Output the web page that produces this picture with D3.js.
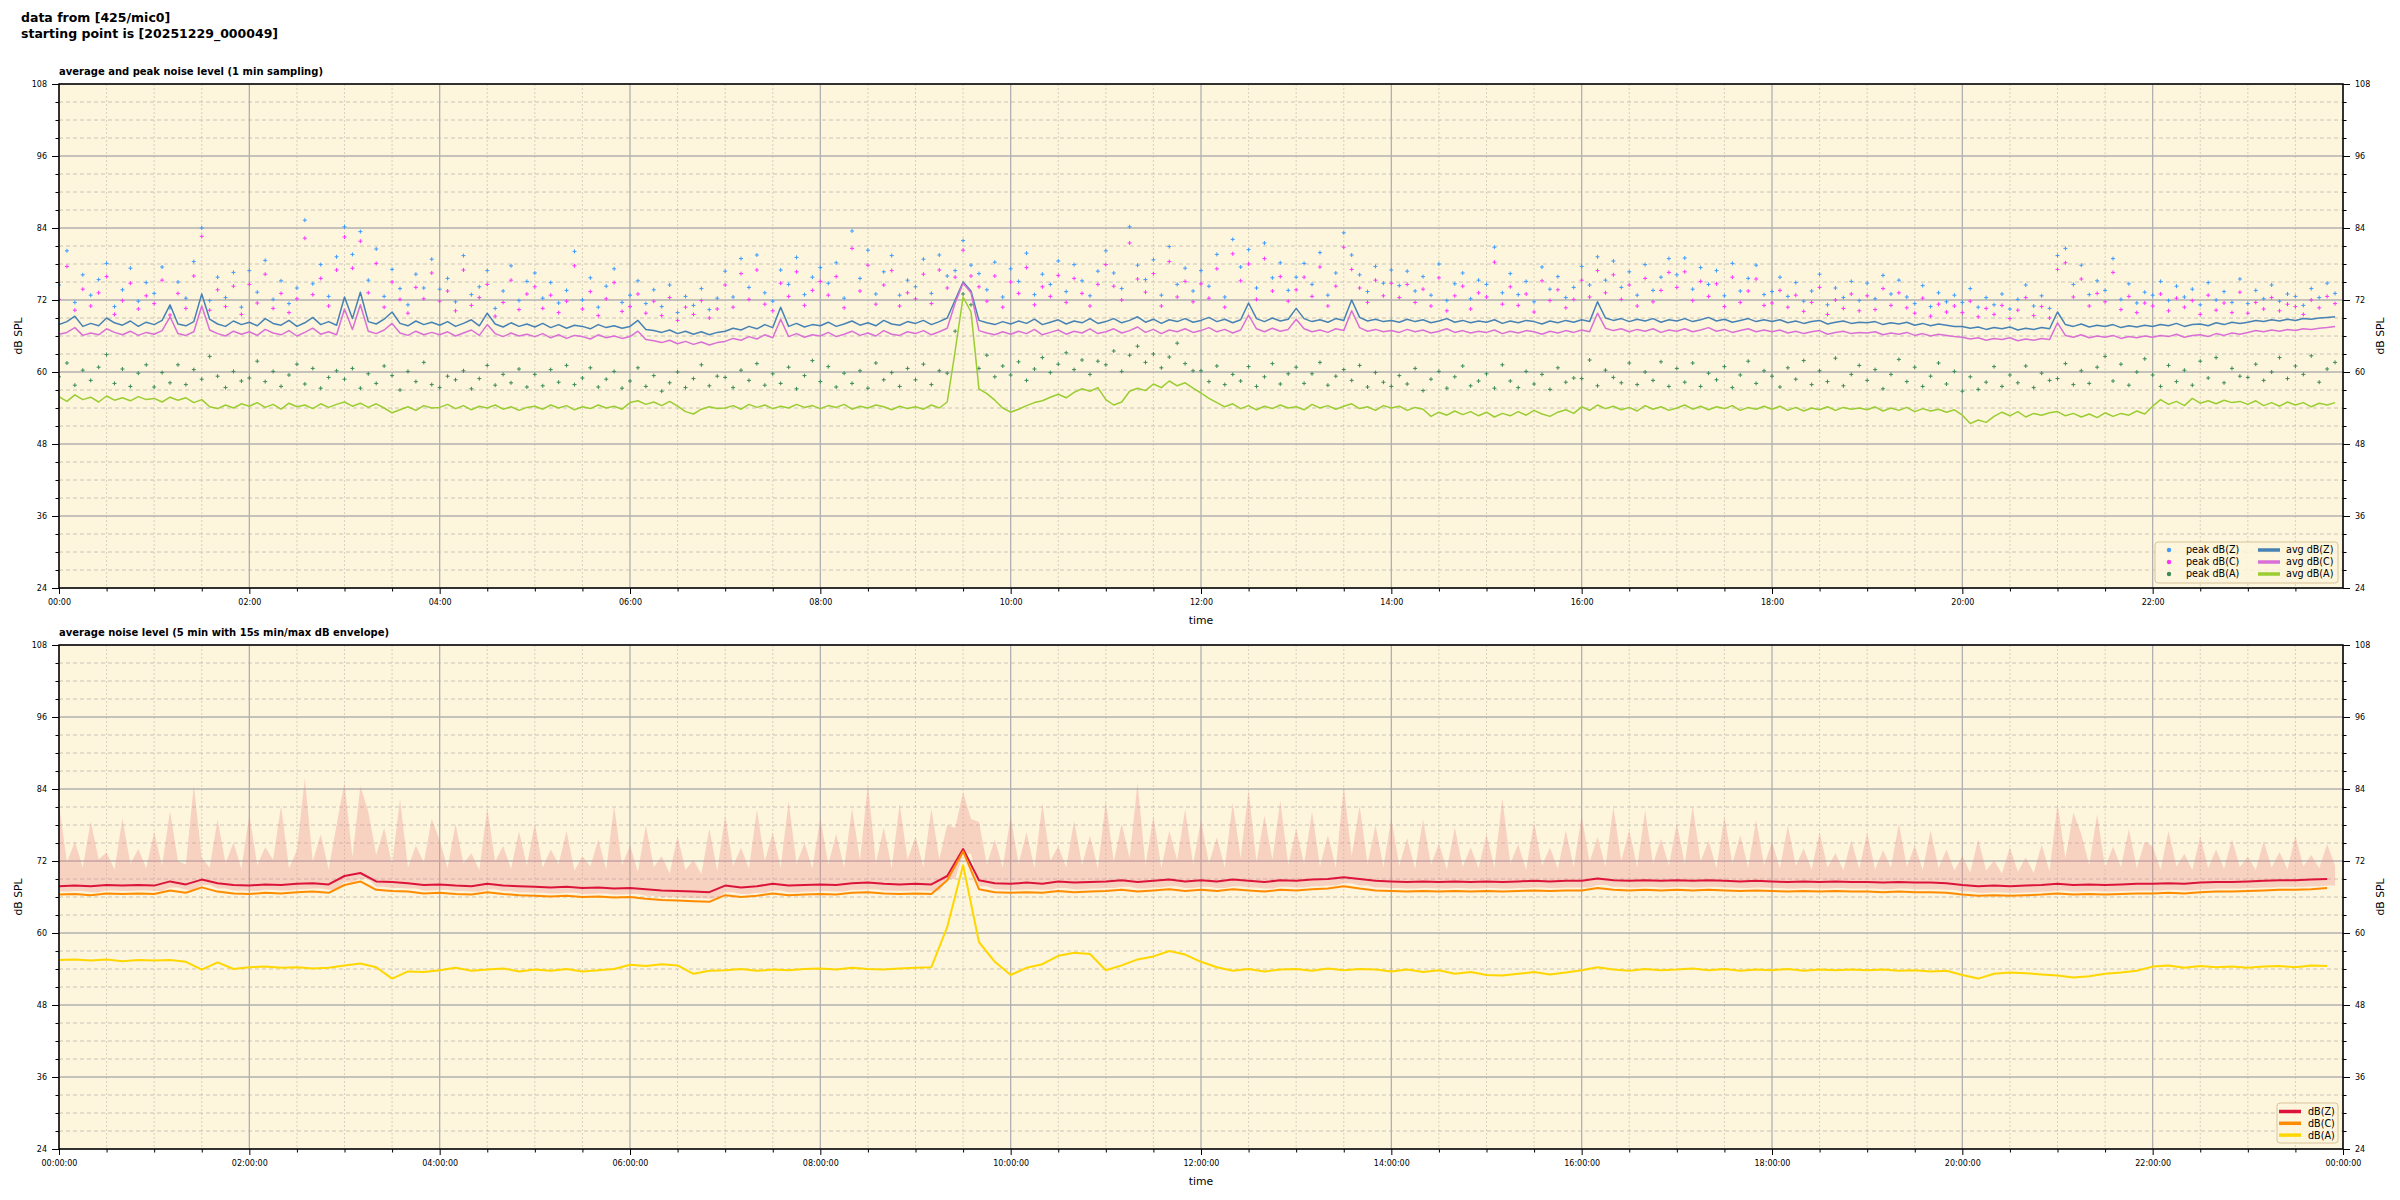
<!DOCTYPE html>
<html lang="en">
<head>
<meta charset="UTF-8">
<title>noise level - 425/mic0</title>
<script src="https://cdn.jsdelivr.net/npm/d3@7"></script>
<style>
  body { margin: 0; background: #ffffff; }
  svg text { font-family: "DejaVu Sans", sans-serif; fill: #000; }
</style>
</head>
<body>
<svg id="chart" width="2400" height="1200"></svg>
<script>
// sampling steps (minutes); every row of an array below is one hour
var topStep = 5;     // avg / peak series of the top panel, envMax
var botStep = 10;    // level lines of the bottom panel, envMin

// top panel: 1 min averages (dB SPL)
var avgZ = [
  67.9, 68.4, 69.3, 67.6, 68.1, 67.7, 69.0, 68.2, 67.8, 68.5, 67.6, 68.3,
  67.9, 68.6, 71.2, 68.0, 67.7, 68.4, 73.0, 68.8, 68.0, 67.6, 68.5, 67.9,
  68.3, 67.7, 68.9, 68.1, 67.8, 68.6, 67.6, 68.2, 69.1, 67.9, 68.4, 67.8,
  72.5, 68.9, 73.3, 68.4, 68.0, 68.8, 70.0, 68.1, 67.7, 68.5, 67.9, 68.3,
  67.8, 68.4, 67.6, 68.1, 68.7, 67.7, 69.8, 68.0, 67.5, 68.2, 67.6, 68.0,
  67.5, 68.1, 67.4, 67.9, 67.3, 67.8, 67.6, 67.2, 67.9, 67.4, 67.7, 67.3,
  67.6, 68.6, 67.1, 66.9, 66.6, 67.0, 66.4, 66.8, 66.3, 66.7, 66.2, 66.6,
  66.8, 67.3, 67.0, 67.6, 67.2, 67.9, 67.4, 70.8, 67.6, 68.1, 67.5, 67.9,
  67.7, 68.3, 67.6, 68.0, 68.5, 67.8, 68.2, 67.7, 68.6, 68.0, 67.8, 68.4,
  68.1, 68.6, 67.9, 68.4, 69.0, 72.0, 75.0, 73.5, 68.6, 68.2, 67.9, 68.4,
  68.0, 68.5, 68.1, 68.8, 67.9, 68.3, 68.7, 68.0, 68.5, 68.2, 68.9, 68.1,
  68.4, 68.9, 68.2, 68.6, 69.2, 68.3, 68.8, 68.1, 68.7, 68.4, 68.9, 68.3,
  68.6, 69.1, 68.4, 68.8, 68.2, 68.7, 71.5, 68.9, 68.4, 69.0, 68.5, 68.8,
  70.6, 68.9, 68.4, 68.7, 68.3, 68.9, 68.6, 72.0, 69.1, 68.5, 68.8, 68.4,
  68.6, 68.3, 68.8, 68.4, 68.7, 68.2, 68.5, 68.9, 68.3, 68.6, 68.2, 68.5,
  68.3, 68.7, 68.1, 68.5, 68.2, 68.6, 68.4, 68.0, 68.5, 68.2, 68.6, 68.3,
  68.7, 68.4, 71.7, 69.0, 68.6, 68.9, 68.4, 68.8, 68.5, 68.9, 68.3, 68.7,
  68.5, 68.9, 68.4, 68.7, 69.1, 68.5, 68.8, 68.3, 68.6, 68.9, 68.4, 68.7,
  68.4, 68.7, 68.2, 68.5, 68.1, 68.4, 68.6, 68.0, 68.3, 68.5, 68.1, 68.3,
  68.2, 68.4, 67.9, 68.2, 68.0, 68.3, 67.8, 68.1, 67.7, 68.0, 67.8, 67.6,
  67.6, 67.3, 67.5, 67.1, 67.4, 67.2, 67.5, 67.0, 67.3, 67.1, 67.4, 67.2,
  70.0, 67.9, 67.6, 68.0, 67.5, 67.8, 67.6, 67.9, 67.4, 67.7, 67.5, 67.8,
  67.6, 67.9, 67.7, 68.1, 67.6, 67.9, 68.0, 67.7, 68.2, 67.9, 68.3, 68.1,
  68.3, 68.6, 68.4, 68.7, 68.5, 68.8, 68.6, 68.9, 68.8, 69.0, 69.1, 69.2
];
var avgC = [
  66.3, 66.6, 67.4, 66.1, 66.5, 66.2, 67.2, 66.6, 66.2, 66.8, 66.1, 66.6,
  66.3, 66.9, 69.2, 66.4, 66.1, 66.7, 71.0, 67.0, 66.4, 66.0, 66.8, 66.3,
  66.7, 66.1, 67.1, 66.5, 66.2, 66.9, 66.0, 66.6, 67.3, 66.3, 66.7, 66.2,
  70.5, 67.1, 71.2, 66.8, 66.4, 67.0, 68.1, 66.5, 66.1, 66.8, 66.2, 66.6,
  66.2, 66.7, 66.0, 66.5, 67.0, 66.1, 67.9, 66.4, 65.9, 66.5, 66.0, 66.3,
  65.9, 66.4, 65.7, 66.2, 65.6, 66.1, 65.9, 65.5, 66.2, 65.7, 66.0, 65.6,
  65.9, 66.8, 65.4, 65.2, 64.9, 65.3, 64.7, 65.1, 64.6, 65.0, 64.5, 64.9,
  65.1, 65.6, 65.3, 65.9, 65.5, 66.2, 65.7, 68.8, 65.9, 66.4, 65.8, 66.2,
  66.0, 66.6, 65.9, 66.3, 66.8, 66.1, 66.5, 66.0, 66.9, 66.3, 66.1, 66.7,
  66.4, 66.9, 66.2, 66.7, 67.3, 71.5, 74.8, 73.2, 66.9, 66.5, 66.2, 66.7,
  66.3, 66.8, 66.4, 67.1, 66.2, 66.6, 67.0, 66.3, 66.8, 66.5, 67.2, 66.4,
  66.7, 67.2, 66.5, 66.9, 67.5, 66.6, 67.1, 66.4, 67.0, 66.7, 67.2, 66.6,
  66.9, 67.4, 66.7, 67.1, 66.5, 67.0, 69.5, 67.2, 66.7, 67.3, 66.8, 67.1,
  68.8, 67.2, 66.7, 67.0, 66.6, 67.2, 66.9, 70.2, 67.4, 66.8, 67.1, 66.7,
  66.9, 66.6, 67.1, 66.7, 67.0, 66.5, 66.8, 67.2, 66.6, 66.9, 66.5, 66.8,
  66.6, 67.0, 66.4, 66.8, 66.5, 66.9, 66.7, 66.3, 66.8, 66.5, 66.9, 66.6,
  67.0, 66.7, 69.8, 67.3, 66.9, 67.2, 66.7, 67.1, 66.8, 67.2, 66.6, 67.0,
  66.8, 67.2, 66.7, 67.0, 67.4, 66.8, 67.1, 66.6, 66.9, 67.2, 66.7, 67.0,
  66.7, 67.0, 66.5, 66.8, 66.4, 66.7, 66.9, 66.3, 66.6, 66.8, 66.4, 66.6,
  66.5, 66.7, 66.2, 66.5, 66.3, 66.6, 66.1, 66.4, 66.0, 66.3, 66.1, 65.9,
  65.8, 65.5, 65.7, 65.3, 65.6, 65.4, 65.7, 65.2, 65.5, 65.3, 65.6, 65.4,
  68.2, 66.1, 65.8, 66.2, 65.7, 66.0, 65.8, 66.1, 65.6, 65.9, 65.7, 66.0,
  65.8, 66.1, 65.9, 66.3, 65.8, 66.1, 66.2, 65.9, 66.4, 66.1, 66.5, 66.3,
  66.6, 66.9, 66.7, 67.0, 66.8, 67.1, 66.9, 67.2, 67.1, 67.3, 67.4, 67.6
];
var avgA = [
  55.9, 55.1, 56.2, 55.4, 55.8, 55.0, 56.0, 55.3, 55.7, 55.2, 55.9, 55.4,
  55.6, 55.0, 55.8, 55.3, 55.7, 54.9, 55.4, 54.2, 53.9, 54.5, 54.0, 54.7,
  54.3, 54.9, 54.1, 54.6, 53.8, 54.8, 54.2, 54.5, 53.9, 54.7, 54.1, 54.6,
  55.0, 54.3, 54.8, 54.1, 54.7, 54.0, 53.2, 53.7, 54.2, 53.6, 54.4, 54.0,
  54.1, 54.6, 53.9, 54.4, 53.7, 54.3, 54.0, 54.5, 53.8, 54.2, 53.6, 54.1,
  54.3, 53.8, 54.5, 54.0, 54.4, 53.7, 54.2, 53.9, 54.5, 54.0, 54.3, 53.8,
  54.9, 55.2, 54.6, 55.0, 54.4, 55.1, 54.3, 53.4, 53.0, 53.8, 54.2, 53.9,
  54.0, 54.4, 53.8, 54.6, 54.1, 54.5, 53.9, 54.3, 54.0, 54.6, 54.1, 54.4,
  53.9, 54.4, 54.1, 54.6, 53.8, 54.3, 54.0, 54.5, 54.2, 53.7, 54.3, 53.9,
  54.2, 53.8, 54.5, 54.0, 55.0, 63.5, 72.5, 70.0, 57.2, 56.4, 55.3, 54.0,
  53.3, 53.8, 54.4, 54.9, 55.2, 55.8, 56.3, 55.7, 56.6, 57.2, 56.8, 57.4,
  55.4, 54.5, 55.0, 56.8, 57.3, 56.9, 58.0, 57.4, 58.5, 57.7, 58.2, 57.3,
  56.5, 55.6, 54.9, 54.2, 54.7, 53.9, 54.4, 53.7, 54.3, 53.9, 54.5, 54.0,
  54.2, 53.7, 54.6, 54.0, 54.4, 53.8, 54.3, 54.7, 53.9, 54.2, 53.6, 54.4,
  54.0, 54.3, 53.6, 54.1, 53.8, 52.6, 53.3, 52.8, 53.5, 52.9, 53.4, 52.7,
  53.3, 52.5, 53.1, 52.7, 53.4, 52.8, 53.6, 53.0, 52.6, 53.3, 53.7, 53.1,
  54.2, 53.6, 54.5, 53.9, 54.3, 53.7, 54.1, 53.5, 54.4, 53.8, 54.2, 53.6,
  54.0, 54.5, 53.8, 54.3, 53.7, 54.2, 53.9, 54.4, 53.6, 54.1, 53.8, 54.3,
  53.8, 54.3, 53.6, 54.1, 53.5, 54.0, 53.7, 54.2, 53.6, 54.1, 53.8, 54.0,
  53.7, 54.2, 53.5, 54.0, 53.6, 54.1, 53.4, 53.9, 53.5, 53.8, 53.3, 53.7,
  52.8, 51.4, 52.0, 51.6, 52.6, 53.3, 52.7, 53.4, 52.5, 53.1, 52.8, 53.2,
  53.4, 52.7, 53.1, 52.5, 53.0, 52.4, 53.2, 52.6, 53.1, 52.8, 53.5, 53.0,
  54.3, 55.4, 54.6, 55.1, 54.4, 55.6, 54.8, 55.2, 54.7, 55.3, 54.9, 55.1,
  54.6, 55.2, 54.4, 54.9, 54.3, 55.0, 54.5, 54.9, 54.2, 54.8, 54.5, 54.9
];

// top panel: peak values
var peakZ = [
  74.5, 80.2, 71.6, 76.2, 72.8, 75.4, 78.1, 70.9, 73.7, 77.3, 71.8, 74.9,
  73.1, 77.5, 70.7, 75.0, 72.3, 78.4, 84.0, 71.9, 75.8, 72.4, 76.6, 70.8,
  76.9, 73.3, 78.6, 72.1, 75.2, 71.4, 74.0, 85.3, 74.7, 77.9, 72.6, 79.2,
  84.2, 79.6, 83.4, 75.3, 80.5, 72.6, 77.1, 73.9, 71.2, 76.3, 74.0, 78.8,
  73.8, 75.6, 71.7, 79.4, 72.9, 74.2, 76.9, 70.6, 73.5, 77.7, 71.9, 75.1,
  76.5, 72.3, 74.9, 71.5, 73.6, 80.1, 72.0, 75.7, 70.8, 74.3, 77.2, 71.6,
  72.8, 75.2, 71.4, 73.7, 70.9, 74.5, 69.9, 72.6, 71.1, 73.9, 70.4, 72.3,
  76.8, 72.5, 78.9, 74.1, 79.5, 73.2, 71.8, 77.0, 74.6, 79.1, 72.9, 75.8,
  77.4, 74.8, 78.2, 72.3, 83.5, 75.6, 80.3, 73.0, 76.7, 79.4, 72.8, 75.3,
  74.2, 78.8, 73.1, 79.5, 76.0, 76.9, 81.9, 77.8, 76.4, 73.7, 78.3, 72.5,
  77.2, 75.1, 79.8, 72.9, 76.3, 74.6, 78.5, 73.4, 77.9, 75.2, 72.7, 76.8,
  80.2, 76.5, 73.9, 84.2, 77.8, 75.4, 78.7, 72.8, 80.9, 74.6, 77.3, 73.5,
  76.9, 74.3, 79.6, 72.5, 82.1, 77.5, 80.4, 74.0, 81.5, 75.7, 78.2, 73.6,
  75.8, 78.1, 74.6, 79.9, 72.8, 76.5, 83.2, 79.5, 76.2, 73.4, 77.6, 74.8,
  77.0, 74.4, 76.8, 73.5, 75.9, 72.8, 78.0, 71.9, 74.7, 76.5, 72.2, 75.3,
  74.6, 80.8, 73.2, 76.4, 72.9, 75.1, 71.7, 77.5, 73.8, 75.9, 72.4, 74.1,
  77.6, 74.5, 79.2, 75.3, 78.5, 74.1, 76.7, 72.8, 77.9, 73.6, 75.8, 78.9,
  76.2, 79.0, 73.8, 77.4, 74.6, 76.9, 72.7, 78.1, 73.5, 75.6, 77.8, 72.9,
  73.4, 75.8, 72.6, 74.9, 71.8, 73.5, 76.3, 71.2, 74.0, 72.4, 75.1, 71.9,
  74.8, 72.2, 76.1, 73.0, 75.3, 72.5, 71.4, 74.4, 70.9, 73.2, 71.7, 72.8,
  71.6, 73.9, 70.8, 72.4, 71.2, 73.0, 70.5, 72.1, 74.5, 71.0, 72.7, 70.6,
  79.4, 80.6, 74.6, 77.8, 72.9, 75.2, 73.6, 78.9, 72.1, 74.7, 71.5, 73.3,
  72.8, 75.1, 71.9, 74.3, 72.5, 73.8, 71.2, 74.9, 72.0, 73.4, 71.6, 75.5,
  71.4, 73.6, 72.2, 74.5, 71.8, 73.0, 72.6, 71.1, 73.9, 72.4, 74.8, 73.1
];
var peakC = [
  72.1, 77.6, 70.3, 73.8, 71.0, 73.2, 75.9, 69.6, 71.9, 74.8, 70.5, 72.7,
  71.4, 75.3, 69.5, 73.1, 70.6, 76.0, 82.6, 70.3, 73.7, 70.9, 74.3, 69.6,
  74.6, 71.5, 76.3, 70.6, 73.1, 69.9, 72.2, 82.3, 72.9, 75.6, 71.0, 77.0,
  82.5, 77.3, 81.8, 73.2, 78.1, 70.8, 75.0, 72.1, 69.8, 74.1, 72.2, 76.5,
  71.8, 73.5, 70.2, 77.0, 71.1, 72.4, 74.6, 69.3, 71.6, 75.3, 70.4, 73.0,
  74.2, 70.6, 72.8, 69.9, 71.8, 77.7, 70.5, 73.4, 69.4, 72.2, 74.9, 70.1,
  70.9, 73.0, 69.8, 71.8, 69.4, 72.4, 68.6, 70.8, 69.6, 71.9, 69.0, 70.5,
  74.5, 70.8, 76.4, 72.1, 77.0, 71.3, 70.2, 74.8, 72.6, 76.7, 71.1, 73.6,
  75.1, 72.8, 75.9, 70.7, 80.6, 73.5, 77.8, 71.3, 74.5, 76.9, 71.0, 73.2,
  72.2, 76.3, 71.4, 77.0, 74.0, 75.8, 80.3, 76.0, 74.2, 71.8, 76.0, 70.8,
  75.0, 73.1, 77.4, 71.2, 74.2, 72.6, 76.1, 71.6, 75.6, 73.1, 71.0, 74.6,
  77.9, 74.3, 72.0, 81.5, 75.5, 73.3, 76.4, 71.0, 78.4, 72.5, 75.1, 71.7,
  74.7, 72.3, 77.2, 70.8, 79.7, 75.2, 78.0, 72.1, 78.9, 73.5, 75.9, 71.8,
  73.7, 75.8, 72.6, 77.5, 71.0, 74.3, 80.8, 77.1, 74.0, 71.6, 75.3, 72.7,
  74.8, 72.4, 74.6, 71.6, 73.8, 71.0, 75.7, 70.2, 72.7, 74.3, 70.5, 73.2,
  72.5, 78.3, 71.3, 74.2, 71.1, 73.0, 70.0, 75.2, 71.9, 73.7, 70.7, 72.1,
  75.3, 72.5, 76.9, 73.2, 76.2, 72.1, 74.5, 71.0, 75.6, 71.7, 73.6, 76.6,
  74.1, 76.7, 71.9, 75.1, 72.6, 74.7, 70.9, 75.8, 71.6, 73.5, 75.5, 71.1,
  71.5, 73.6, 70.8, 72.8, 70.1, 71.6, 74.1, 69.6, 72.0, 70.6, 73.0, 70.2,
  72.7, 70.4, 73.9, 71.1, 73.2, 70.7, 69.8, 72.3, 69.3, 71.3, 70.0, 71.0,
  69.9, 71.8, 69.2, 70.6, 69.6, 71.1, 68.9, 70.3, 72.4, 69.4, 70.9, 69.0,
  77.1, 78.2, 72.5, 75.5, 71.0, 73.1, 71.7, 76.6, 70.4, 72.6, 69.9, 71.5,
  71.0, 73.0, 70.2, 72.3, 70.8, 71.9, 69.6, 72.8, 70.3, 71.5, 69.9, 73.3,
  69.8, 71.6, 70.5, 72.4, 70.2, 71.3, 70.9, 69.6, 72.0, 70.7, 72.6, 71.4
];
var peakA = [
  59.2, 61.5, 57.8, 60.3, 58.6, 60.8, 62.9, 58.1, 60.5, 57.6, 59.8, 61.2,
  57.5, 59.9, 58.2, 61.2, 57.9, 60.4, 58.8, 62.6, 59.3, 57.4, 60.1, 58.5,
  59.0, 61.8, 58.4, 60.1, 57.6, 59.5, 61.3, 58.0, 60.6, 57.3, 59.1, 60.2,
  58.8, 60.6, 57.3, 59.7, 58.1, 61.0, 59.4, 57.0, 60.1, 58.4, 61.6, 57.9,
  57.4, 59.3, 58.7, 60.2, 57.2, 58.9, 61.1, 57.8, 59.6, 58.2, 60.5, 57.5,
  59.6, 57.7, 60.4, 58.3, 61.1, 57.9, 59.0, 60.7, 57.5, 58.8, 60.1, 57.3,
  58.5, 60.7, 57.6, 59.4, 56.8, 58.2, 60.0, 57.4, 58.9, 61.2, 57.7, 59.3,
  59.1, 57.4, 60.3, 58.6, 61.4, 57.8, 59.7, 58.1, 60.8, 57.2, 59.4, 61.9,
  58.4, 60.9, 57.5, 59.8, 58.1, 60.2, 57.3, 61.5, 58.7, 59.9, 57.6, 60.6,
  58.7, 61.3, 57.9, 60.2, 59.8, 66.8, 73.0, 71.2, 60.6, 62.8, 59.2, 61.0,
  59.5, 61.7, 58.6, 60.5, 62.4, 59.9, 61.3, 63.2, 60.4, 62.0, 59.6, 61.8,
  61.2, 63.5, 60.1, 62.8, 64.3, 61.6, 63.0, 60.7, 62.5, 64.8, 61.4, 60.2,
  60.2, 58.4, 61.0, 57.9, 59.6, 58.5, 60.9, 57.6, 59.2, 61.4, 58.0, 59.7,
  60.8, 58.1, 59.7, 61.6, 57.8, 59.3, 60.4, 58.6, 61.1, 57.5, 59.9, 58.3,
  57.6, 59.4, 58.0, 60.6, 56.9, 58.8, 60.1, 57.3, 59.2, 61.0, 57.7, 58.5,
  59.7, 57.3, 61.2, 58.5, 57.4, 60.1, 58.0, 59.6, 57.1, 60.7, 58.3, 59.0,
  58.9, 62.0, 57.7, 60.3, 59.1, 58.2, 61.5, 57.9, 60.0, 58.6, 61.7, 57.6,
  60.6, 58.3, 61.5, 57.6, 59.8, 58.7, 60.9, 57.4, 59.5, 61.8, 58.1, 60.2,
  59.3, 57.5, 60.7, 58.8, 61.9, 57.9, 60.2, 58.4, 62.3, 57.7, 59.6, 61.1,
  58.6, 60.4, 57.2, 59.6, 62.1, 58.4, 60.8, 57.6, 59.3, 61.5, 58.0, 60.1,
  56.8, 59.2, 57.1, 58.3, 60.9, 57.6, 59.5, 58.2, 61.0, 57.4, 59.8, 58.6,
  58.9, 61.4, 57.9, 60.2, 58.1, 60.8, 62.6, 58.5, 61.3, 57.8, 60.0, 62.2,
  59.5, 57.6, 61.1, 58.4, 60.3, 57.8, 61.8, 59.0, 62.4, 58.2, 60.6, 59.3,
  59.1, 61.3, 58.6, 60.0, 62.4, 58.9, 61.0, 59.6, 62.7, 58.3, 60.5, 61.6
];

// bottom panel: 5 min averages
var lvlZ = [
  67.8, 67.9, 67.8, 68.0, 67.9, 68.0,
  67.9, 68.6, 68.1, 68.9, 68.3, 68.0,
  67.9, 68.1, 68.0, 68.2, 68.3, 68.1,
  69.5, 70.0, 68.6, 68.5, 68.3, 68.0,
  68.1, 67.9, 67.8, 68.2, 67.9, 67.8,
  67.7, 67.6, 67.7, 67.5, 67.6, 67.4,
  67.5, 67.3, 67.1, 67.0, 66.9, 66.8,
  67.9, 67.6, 67.8, 68.2, 67.9, 68.0,
  68.1, 68.0, 68.3, 68.4, 68.2, 68.1,
  68.2, 68.1, 69.5, 74.0, 68.8, 68.3,
  68.2, 68.4, 68.2, 68.6, 68.4, 68.5,
  68.6, 68.8, 68.5, 68.7, 68.9, 68.6,
  68.8, 68.6, 68.9, 68.7, 68.5, 68.8,
  68.7, 68.9, 69.0, 69.3, 69.0, 68.7,
  68.6, 68.5, 68.6, 68.5, 68.6, 68.5,
  68.6, 68.5, 68.6, 68.7, 68.6, 68.7,
  68.7, 69.1, 68.8, 68.7, 68.8, 68.7,
  68.8, 68.7, 68.8, 68.7, 68.6, 68.7,
  68.6, 68.5, 68.6, 68.5, 68.6, 68.5,
  68.5, 68.4, 68.5, 68.4, 68.4, 68.3,
  68.0, 67.8, 67.9, 67.8, 67.9, 68.0,
  68.2, 68.0, 68.1, 68.0, 68.1, 68.2,
  68.2, 68.3, 68.2, 68.4, 68.5, 68.5,
  68.6, 68.7, 68.8, 68.8, 68.9, 69.0
];
var lvlC = [
  66.4, 66.5, 66.3, 66.6, 66.5, 66.6,
  66.5, 67.1, 66.7, 67.6, 66.9, 66.6,
  66.5, 66.7, 66.6, 66.8, 66.9, 66.7,
  68.0, 68.6, 67.2, 67.0, 66.9, 66.6,
  66.7, 66.5, 66.4, 66.8, 66.5, 66.3,
  66.2, 66.1, 66.2, 66.0, 66.1, 65.9,
  66.0, 65.7, 65.5, 65.4, 65.3, 65.2,
  66.3, 66.0, 66.2, 66.6, 66.3, 66.4,
  66.5, 66.4, 66.7, 66.8, 66.6, 66.5,
  66.6, 66.5, 68.8, 73.6, 67.3, 66.8,
  66.7, 66.8, 66.7, 67.0, 66.8, 66.9,
  67.0, 67.2, 66.9, 67.1, 67.3, 67.0,
  67.2, 67.0, 67.3, 67.1, 66.9, 67.2,
  67.1, 67.3, 67.4, 67.8, 67.4, 67.1,
  67.0, 66.9, 67.0, 66.9, 67.0, 66.9,
  67.0, 66.9, 67.0, 67.1, 67.0, 67.1,
  67.1, 67.5, 67.2, 67.1, 67.2, 67.1,
  67.2, 67.1, 67.2, 67.1, 67.0, 67.1,
  67.0, 66.9, 67.0, 66.9, 67.0, 66.9,
  66.9, 66.8, 66.9, 66.8, 66.8, 66.7,
  66.4, 66.2, 66.3, 66.2, 66.3, 66.4,
  66.6, 66.4, 66.5, 66.4, 66.5, 66.6,
  66.6, 66.7, 66.6, 66.8, 66.9, 66.9,
  67.0, 67.1, 67.2, 67.2, 67.3, 67.5
];
var lvlA = [
  55.5, 55.6, 55.4, 55.6, 55.3, 55.5,
  55.4, 55.5, 55.2, 53.9, 55.1, 54.0,
  54.3, 54.4, 54.2, 54.3, 54.1, 54.2,
  54.6, 54.9, 54.3, 52.4, 53.6, 53.5,
  53.8, 54.2, 53.7, 53.9, 54.1, 53.6,
  53.9, 53.7, 54.0, 53.6, 53.8, 54.0,
  54.7, 54.5, 54.8, 54.6, 53.2, 53.7,
  53.8, 54.0, 53.7, 53.9, 53.8, 54.0,
  54.1, 53.9, 54.2, 54.0, 53.9, 54.1,
  54.2, 54.3, 61.0, 71.3, 58.5, 55.2,
  53.0, 54.2, 54.8, 56.2, 56.7, 56.5,
  53.8, 54.6, 55.6, 56.1, 57.0, 56.4,
  55.2, 54.3, 53.7, 54.0, 53.6, 53.9,
  54.0, 53.7, 54.1, 53.8, 54.0, 53.9,
  53.6, 53.9, 53.5, 53.8, 53.2, 53.5,
  53.0, 52.9, 53.2, 53.5, 53.1, 53.4,
  53.8, 54.3, 53.9, 53.7, 54.0, 53.8,
  53.9, 54.1, 53.8, 54.0, 53.7, 53.9,
  53.8, 54.0, 53.7, 53.9, 53.8, 53.9,
  53.8, 53.9, 53.7, 53.8, 53.6, 53.7,
  53.0, 52.4, 53.2, 53.4, 53.3, 53.1,
  52.9, 52.6, 52.8, 53.2, 53.4, 53.7,
  54.4, 54.6, 54.2, 54.5, 54.3, 54.4,
  54.2, 54.4, 54.5, 54.3, 54.6, 54.5
];

// bottom panel: 15 s min / max envelope
var envMin = [
  66.9, 67.0, 66.8, 67.1, 67.0, 67.1,
  67.0, 67.6, 67.2, 68.0, 67.4, 67.1,
  67.0, 67.2, 67.1, 67.3, 67.4, 67.2,
  68.5, 69.0, 67.7, 67.5, 67.4, 67.1,
  67.2, 67.0, 66.9, 67.3, 67.0, 66.8,
  66.7, 66.6, 66.7, 66.5, 66.6, 66.4,
  66.5, 66.2, 66.0, 65.9, 65.8, 65.7,
  66.8, 66.5, 66.7, 67.1, 66.8, 66.9,
  67.0, 66.9, 67.2, 67.3, 67.1, 67.0,
  67.1, 67.0, 69.0, 73.2, 67.8, 67.3,
  67.2, 67.3, 67.2, 67.5, 67.3, 67.4,
  67.5, 67.7, 67.4, 67.6, 67.8, 67.5,
  67.7, 67.5, 67.8, 67.6, 67.4, 67.7,
  67.6, 67.8, 67.9, 68.3, 67.9, 67.6,
  67.5, 67.4, 67.5, 67.4, 67.5, 67.4,
  67.5, 67.4, 67.5, 67.6, 67.5, 67.6,
  67.6, 68.0, 67.7, 67.6, 67.7, 67.6,
  67.7, 67.6, 67.7, 67.6, 67.5, 67.6,
  67.5, 67.4, 67.5, 67.4, 67.5, 67.4,
  67.4, 67.3, 67.4, 67.3, 67.3, 67.2,
  66.9, 66.7, 66.8, 66.7, 66.8, 66.9,
  67.1, 66.9, 67.0, 66.9, 67.0, 67.1,
  67.1, 67.2, 67.1, 67.3, 67.4, 67.4,
  67.5, 67.6, 67.7, 67.7, 67.8, 67.9
];
var envMax = [
  81.5, 71.8, 75.2, 70.9, 78.6, 72.3, 73.4, 70.6, 79.1, 71.5, 74.0, 70.8,
  76.8, 71.2, 80.3, 72.0, 71.4, 84.6, 72.5, 70.9, 78.9, 71.6, 75.1, 70.7,
  79.7, 71.3, 74.3, 72.2, 81.2, 70.8, 73.8, 85.8, 71.9, 76.4, 70.6, 78.0,
  85.1, 72.6, 84.5, 80.2, 73.0, 77.5, 71.4, 82.3, 70.9, 74.6, 71.7, 79.0,
  75.4, 70.8, 78.2, 71.6, 73.3, 70.5, 80.8, 71.9, 74.5, 70.7, 76.9, 71.2,
  78.3, 70.9, 73.9, 71.5, 77.0, 70.4, 72.8, 71.1, 75.6, 70.6, 81.2, 71.3,
  74.6, 70.2, 77.9, 71.0, 72.8, 69.9, 76.1, 70.5, 72.2, 69.8, 77.4, 70.3,
  79.6, 71.2, 74.2, 70.7, 80.5, 72.0, 76.7, 70.9, 81.9, 71.5, 75.0, 70.8,
  79.2, 71.4, 76.5, 70.9, 80.8, 72.1, 84.9, 71.6, 77.6, 70.8, 81.5, 72.2,
  76.1, 71.0, 80.7, 72.3, 78.0, 77.5, 83.5, 79.0, 78.5, 71.4, 75.6, 70.9,
  79.4, 71.5, 76.8, 70.8, 81.6, 72.0, 74.5, 70.9, 78.7, 71.3, 76.2, 70.7,
  82.0, 71.8, 78.3, 72.4, 85.1, 71.2, 79.5, 70.9, 77.0, 72.1, 80.6, 71.4,
  78.8, 71.6, 75.9, 70.9, 81.7, 72.5, 83.8, 71.8, 79.6, 72.2, 82.1, 71.3,
  77.4, 71.5, 80.2, 71.1, 76.3, 70.9, 84.6, 72.8, 81.2, 71.4, 78.0, 71.0,
  79.1, 71.2, 75.8, 70.7, 78.9, 71.4, 74.9, 70.6, 77.6, 71.0, 74.3, 70.8,
  76.5, 70.9, 82.4, 71.6, 74.8, 70.5, 78.6, 71.2, 74.2, 70.7, 77.1, 71.0,
  79.5, 71.8, 76.0, 71.1, 81.0, 72.0, 77.2, 70.9, 80.4, 71.5, 75.7, 71.2,
  78.3, 71.4, 81.2, 71.9, 75.4, 70.8, 79.5, 71.6, 76.3, 70.9, 78.8, 71.3,
  75.2, 70.8, 77.9, 71.2, 74.1, 70.6, 76.8, 70.9, 73.3, 70.4, 75.4, 70.7,
  76.7, 70.6, 73.8, 70.9, 78.2, 71.0, 74.6, 70.5, 77.1, 70.8, 73.9, 70.4,
  72.8, 70.1, 75.6, 70.4, 72.1, 69.9, 74.3, 70.2, 72.6, 70.0, 74.7, 70.3,
  81.6, 72.4, 80.1, 76.5, 71.3, 79.8, 70.9, 74.4, 71.0, 77.3, 70.8, 75.2,
  74.4, 70.6, 77.0, 71.1, 73.2, 70.5, 76.1, 70.8, 73.9, 70.7, 75.6, 71.0,
  72.7, 70.5, 75.3, 70.9, 73.5, 70.6, 76.2, 71.1, 73.0, 70.8, 74.8, 71.2
];

var yMajor = [24, 36, 48, 60, 72, 84, 96, 108];
var xMajorMin = [0, 120, 240, 360, 480, 600, 720, 840, 960, 1080, 1200, 1320, 1440];

var W = 2400, H = 1200;
var left = 59, right = 2343;
var bg = "#fdf5dc";

var svg = d3.select("#chart");
svg.append("rect").attr("width", W).attr("height", H).attr("fill", "#fff");

// figure title
svg.append("text").attr("x", 21).attr("y", 22)
  .style("font-size", "12.5px").style("font-weight", "bold")
  .text("data from [425/mic0]");
svg.append("text").attr("x", 21).attr("y", 38)
  .style("font-size", "12.5px").style("font-weight", "bold")
  .text("starting point is [20251229_000049]");

function pad2(n) { return (n < 10 ? "0" : "") + n; }

function panel(opt) {
  var g = svg.append("g");
  var x = d3.scaleLinear().domain([0, 1440]).range([left, right]);
  var y = d3.scaleLinear().domain([24, 108]).range([opt.bottom, opt.top]);

  g.append("rect").attr("x", left).attr("y", opt.top)
    .attr("width", right - left).attr("height", opt.bottom - opt.top)
    .attr("fill", bg);

  var yMinor = d3.range(24, 109, 3).filter(function(v){ return yMajor.indexOf(v) < 0; });
  var xMinor = d3.range(0, 1441, 30).filter(function(v){ return xMajorMin.indexOf(v) < 0; });

  // grid
  g.append("g").selectAll("line").data(xMinor).join("line")
    .attr("x1", x).attr("x2", x).attr("y1", opt.top).attr("y2", opt.bottom)
    .attr("stroke", "#cfc8b8").attr("stroke-width", 0.8).attr("stroke-dasharray", "2,2");
  g.append("g").selectAll("line").data(yMinor).join("line")
    .attr("x1", left).attr("x2", right).attr("y1", y).attr("y2", y)
    .attr("stroke", "#bdb8ae").attr("stroke-width", 0.8).attr("stroke-dasharray", "4,3");
  g.append("g").selectAll("line").data(xMajorMin).join("line")
    .attr("x1", x).attr("x2", x).attr("y1", opt.top).attr("y2", opt.bottom)
    .attr("stroke", "#b0b0b0").attr("stroke-width", 1.3);
  g.append("g").selectAll("line").data(yMajor).join("line")
    .attr("x1", left).attr("x2", right).attr("y1", y).attr("y2", y)
    .attr("stroke", "#b0b0b0").attr("stroke-width", 1.3);

  var clipId = "clip" + opt.id;
  g.append("clipPath").attr("id", clipId).append("rect")
    .attr("x", left).attr("y", opt.top).attr("width", right - left).attr("height", opt.bottom - opt.top);
  var plot = g.append("g").attr("clip-path", "url(#" + clipId + ")");

  // axes
  var fmt = function(m) {
    var s = pad2(Math.floor(m / 60) % 24) + ":00";
    return opt.withSeconds ? s + ":00" : s;
  };
  var xTicks = opt.lastLabel ? xMajorMin : xMajorMin.slice(0, -1);
  var ax = g.append("g").attr("transform", "translate(0," + opt.bottom + ")");
  ax.call(d3.axisBottom(x).tickValues(xMinor).tickSize(3.5).tickFormat(""));
  ax.append("g").call(d3.axisBottom(x).tickValues(xTicks).tickSize(6).tickPadding(5).tickFormat(fmt));

  var ayl = g.append("g").attr("transform", "translate(" + left + ",0)");
  ayl.call(d3.axisLeft(y).tickValues(yMinor).tickSize(3.5).tickFormat(""));
  ayl.append("g").call(d3.axisLeft(y).tickValues(yMajor).tickSize(7).tickPadding(5).tickFormat(d3.format("d")));
  var ayr = g.append("g").attr("transform", "translate(" + right + ",0)");
  ayr.call(d3.axisRight(y).tickValues(yMinor).tickSize(3.5).tickFormat(""));
  ayr.append("g").call(d3.axisRight(y).tickValues(yMajor).tickSize(7).tickPadding(5).tickFormat(d3.format("d")));

  g.selectAll(".domain").remove();
  g.selectAll(".tick line").attr("stroke", "#000").attr("stroke-width", 1);
  g.selectAll(".tick text").style("font-size", "8px").style("font-family", "DejaVu Sans, sans-serif").attr("fill", "#222");

  // frame
  g.append("rect").attr("x", left).attr("y", opt.top)
    .attr("width", right - left).attr("height", opt.bottom - opt.top)
    .attr("fill", "none").attr("stroke", "#000").attr("stroke-width", 1.5);

  // labels
  g.append("text").attr("x", left).attr("y", opt.top - 9)
    .style("font-size", "10px").style("font-weight", "bold").text(opt.title);
  g.append("text").attr("x", (left + right) / 2).attr("y", opt.bottom + 36)
    .attr("text-anchor", "middle").style("font-size", "10.8px").text("time");
  var mid = (opt.top + opt.bottom) / 2;
  g.append("text").attr("transform", "translate(22," + mid + ") rotate(-90)")
    .attr("text-anchor", "middle").style("font-size", "10.8px").text("dB SPL");
  g.append("text").attr("transform", "translate(2384," + mid + ") rotate(-90)")
    .attr("text-anchor", "middle").style("font-size", "10.8px").text("dB SPL");

  return { x: x, y: y, plot: plot, g: g };
}

// ---- top panel ----
var p1 = panel({ id: 1, top: 84, bottom: 588, title: "average and peak noise level (1 min sampling)", withSeconds: false, lastLabel: false });

function crosses(p, data, step, color) {
  p.plot.append("g").selectAll("path").data(data).join("path")
    .attr("d", function(d, i) {
      var cx = p.x(i * step), cy = p.y(d);
      return "M" + (cx - 2) + "," + cy + "h4M" + cx + "," + (cy - 2) + "v4";
    })
    .attr("stroke", color).attr("stroke-width", 1).attr("fill", "none");
}
crosses(p1, peakZ, topStep, "#3d9bff");
crosses(p1, peakC, topStep, "#ff33ff");
crosses(p1, peakA, topStep, "#3a8a5a");

function line(p, data, step, color, w) {
  p.plot.append("path").datum(data)
    .attr("d", d3.line().x(function(d, i){ return p.x(i * step); }).y(function(d){ return p.y(d); }))
    .attr("fill", "none").attr("stroke", color).attr("stroke-width", w).attr("stroke-linejoin", "round");
}
line(p1, avgZ, topStep, "#4682b4", 1.5);
line(p1, avgC, topStep, "#da70d6", 1.5);
line(p1, avgA, topStep, "#9acd32", 1.5);

// ---- bottom panel ----
var p2 = panel({ id: 2, top: 645, bottom: 1149, title: "average noise level (5 min with 15s min/max dB envelope)", withSeconds: true, lastLabel: true });

// envelope: max sampled every topStep, min looked up in its own 10 min grid
p2.plot.append("path").datum(envMax)
  .attr("d", d3.area()
    .x(function(d, i){ return p2.x(i * topStep); })
    .y0(function(d, i){ return p2.y(envMin[Math.floor(i * topStep / botStep)]); })
    .y1(function(d){ return p2.y(d); }))
  .attr("fill", "#f08080").attr("fill-opacity", 0.3).attr("stroke", "none");
line(p2, lvlZ, botStep, "#dc143c", 2);
line(p2, lvlC, botStep, "#ff8c00", 2);
line(p2, lvlA, botStep, "#ffd700", 2);

// ---- legends ----
function legendBox(x0, y0, w, h) {
  svg.append("rect").attr("x", x0).attr("y", y0).attr("width", w).attr("height", h)
    .attr("rx", 3).attr("fill", "#fdf5dc").attr("fill-opacity", 0.85)
    .attr("stroke", "#d9c49a").attr("stroke-width", 1);
}
var topNames = ["peak dB(Z)", "peak dB(C)", "peak dB(A)"];
var topDot = ["#3d9bff", "#ff33ff", "#3a8a5a"];
var topLineNames = ["avg dB(Z)", "avg dB(C)", "avg dB(A)"];
var topLineCol = ["#4682b4", "#da70d6", "#9acd32"];
legendBox(2155, 542, 183, 41);
topNames.forEach(function(n, i) {
  var yy = 550 + i * 12;
  svg.append("circle").attr("cx", 2169).attr("cy", yy).attr("r", 2.2).attr("fill", topDot[i]);
  svg.append("text").attr("x", 2186).attr("y", yy + 3.4).style("font-size", "9.6px").text(n);
  svg.append("line").attr("x1", 2258).attr("x2", 2280).attr("y1", yy).attr("y2", yy)
    .attr("stroke", topLineCol[i]).attr("stroke-width", 3.5);
  svg.append("text").attr("x", 2286).attr("y", yy + 3.4).style("font-size", "9.6px").text(topLineNames[i]);
});

var botNames = ["dB(Z)", "dB(C)", "dB(A)"];
var botCol = ["#dc143c", "#ff8c00", "#ffd700"];
legendBox(2277, 1103, 61, 40);
botNames.forEach(function(n, i) {
  var yy = 1111.5 + i * 11.8;
  svg.append("line").attr("x1", 2279).attr("x2", 2301).attr("y1", yy).attr("y2", yy)
    .attr("stroke", botCol[i]).attr("stroke-width", 3.5);
  svg.append("text").attr("x", 2308).attr("y", yy + 3.4).style("font-size", "9.6px").text(n);
});
</script>
</body>
</html>
